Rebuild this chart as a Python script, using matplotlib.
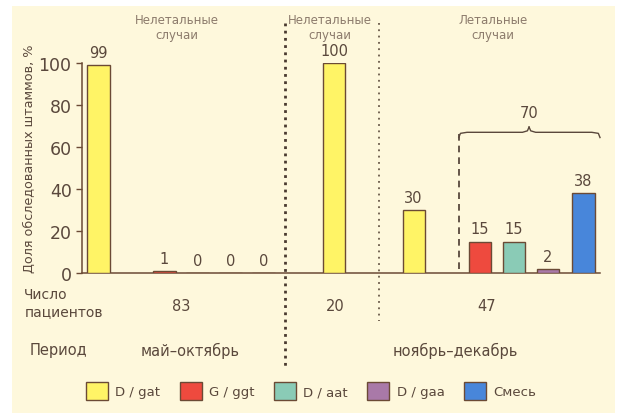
import matplotlib
matplotlib.use("Agg")
import matplotlib.pyplot as plt
from matplotlib.patches import Patch, Rectangle

# данные
strains = ["D / gat", "G / ggt", "D / aat", "D / gaa", "Смесь"]
colors = ["#FFF466", "#EE4A3E", "#8ACBB6", "#A979A8", "#4886DA"]

g1_vals = [99, 1, 0, 0, 0]          # нелетальные, май-октябрь
g2_vals = [100]                     # нелетальные, ноябрь-декабрь
g3_vals = [30, 15, 15, 2, 38]       # летальные, ноябрь-декабрь
patients = [83, 20, 47]
periods = ["май–октябрь", "ноябрь–декабрь"]
group_titles = ["Нелетальные\nслучаи", "Нелетальные\nслучаи", "Летальные\nслучаи"]
brace_value = 70

# позиции (в слотах)
g1_x = [0, 2, 3, 4, 5]
g2_x = [7.15]
g3_x = [9.55, 11.55, 12.58, 13.62, 14.7]

txt = "#5a483c"
light = "#8c7b6c"
edge = "#6b4a35"
bg = "#FEF8DC"

plt.rcParams['font.family'] = ['DejaVu Sans Condensed', 'DejaVu Sans']

fig = plt.figure(figsize=(6.17, 4.14), dpi=100)
fig.patch.set_facecolor("white")
fig.patches.append(Rectangle((12/617, 0), 603/617, 407/414, transform=fig.transFigure,
                             facecolor=bg, edgecolor="none", zorder=-10))

ax = fig.add_axes([82/617, 140/414, 518/617, 210/414])
ax.set_facecolor("none")
ax.set_xlim(-0.5, 15.2)
ax.set_ylim(0, 100)

w = 0.67
def bars(xs, vals, cols):
    for x, v, c in zip(xs, vals, cols):
        ax.bar(x, v, width=w, color=c, edgecolor=edge, linewidth=1.0, zorder=3)
        ax.text(x, v + 2.5, str(v), ha="center", va="bottom", fontsize=10.5, color=txt)

bars(g1_x, g1_vals, colors)
bars(g2_x, g2_vals, colors[:1])
bars(g3_x, g3_vals, colors)

for s in ["top", "right"]:
    ax.spines[s].set_visible(False)
ax.spines["left"].set_color(edge)
ax.spines["bottom"].set_color(edge)
ax.spines["left"].set_linewidth(1.1)
ax.spines["bottom"].set_linewidth(1.1)
ax.set_xticks([])
ax.set_yticks([0, 20, 40, 60, 80, 100])
ax.tick_params(axis="y", colors=edge, labelcolor=txt, labelsize=12.5, length=4, width=1.0)
ax.set_ylabel("Доля обследованных штаммов, %", fontsize=9.2, color=txt)
ax.yaxis.set_label_coords(-46/518, 55/100)

# разделители
ax.plot([5.65, 5.65], [119, -45], ls=(0, (1, 1.6)), lw=2.0, color="#4a3a30", clip_on=False)
ax.plot([8.5, 8.5], [119, -23], ls=(0, (1, 2.5)), lw=1.3, color="#6a5a4a", clip_on=False)
ax.plot([10.92, 10.92], [66, 0], ls=(0, (4, 3)), lw=1.2, color="#4a3a30", clip_on=False)

# фигурная скобка
bx0, bx1, bm, by = 10.92, 15.2, 13.05, 67
ax.plot([bx0, bx0 + 0.05, bx0 + 0.25, bm - 0.2, bm - 0.05, bm],
        [by - 2.5, by - 0.5, by, by, by + 0.7, by + 2.5], color=txt, lw=1.0, clip_on=False)
ax.plot([bx1, bx1 - 0.05, bx1 - 0.25, bm + 0.2, bm + 0.05, bm],
        [by - 2.5, by - 0.5, by, by, by + 0.7, by + 2.5], color=txt, lw=1.0, clip_on=False)
ax.text(bm, by + 6, str(brace_value), ha="center", va="bottom", fontsize=10.5, color=txt)

# заголовки групп
for x, t in zip([2.38, 7.0, 11.95], group_titles):
    ax.text(x, 117, t, ha="center", va="center", fontsize=8.5, color=light, linespacing=1.2)

# подписи снизу
ax.text(-2.25, -14, "Число\nпациентов", ha="left", va="center", fontsize=10, color=txt, linespacing=1.3)
for x, p in zip([2.5, 7.17, 11.77], patients):
    ax.text(x, -15.5, str(p), ha="center", va="center", fontsize=10.5, color=txt)
ax.text(-2.1, -36.5, "Период", ha="left", va="center", fontsize=10.5, color=txt)
for x, p in zip([2.77, 10.8], periods):
    ax.text(x, -36.5, p, ha="center", va="center", fontsize=10.5, color=txt)

handles = [Patch(facecolor=c, edgecolor=edge, linewidth=1.0) for c in colors]
fig.legend(handles, strains, loc="center", bbox_to_anchor=(311/617, 1 - 392/414), ncol=5,
           frameon=False, fontsize=9.5, handlelength=1.65, handleheight=1.65,
           columnspacing=1.5, handletextpad=0.55, labelcolor=txt)

fig.savefig("out.png", dpi=100)
